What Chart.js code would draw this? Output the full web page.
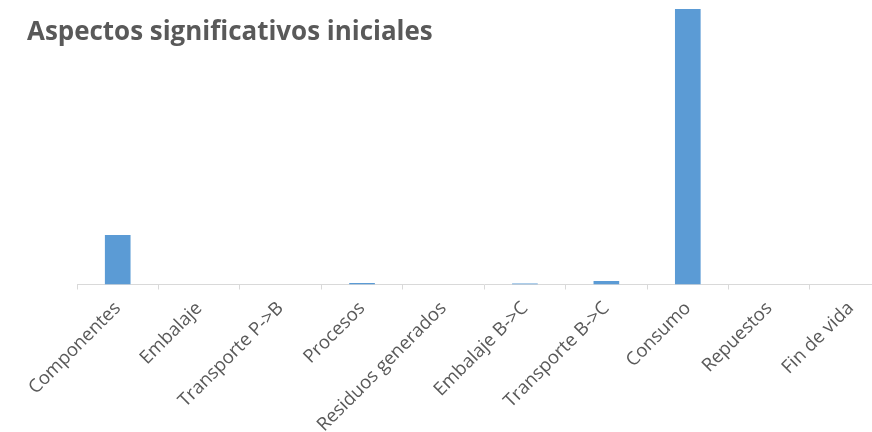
<!DOCTYPE html>
<html>
<head>
<meta charset="utf-8">
<script src="https://cdn.jsdelivr.net/npm/chart.js@4.4.1/dist/chart.umd.min.js"></script>
<style>
  html, body { margin: 0; padding: 0; background: #ffffff; }
  #wrap { width: 872px; height: 432px; overflow: hidden; position: relative; }
  canvas { display: block; }
</style>
</head>
<body>
<div id="wrap"><canvas id="c" width="900" height="432"></canvas></div>
<script>
// Categories along the life cycle
const categories = [
  'Componentes', 'Embalaje', 'Transporte P->B', 'Procesos', 'Residuos generados',
  'Embalaje B->C', 'Transporte B->C', 'Consumo', 'Repuestos', 'Fin de vida'
];
// Share of the initial impact per stage (%)
const shares = [14.93, 0, 0, 0.45, 0, 0.3, 1.06, 83.1, 0, 0];
const chartTitle = 'Aspectos significativos iniciales';

const FONT = "'Open Sans', 'DejaVu Sans', sans-serif";
const GREY_TEXT = '#595959';
const AXIS_GREY = '#d9d9d9';

// Title drawn on the canvas, sized to its box width
const titlePlugin = {
  id: 'canvasTitle',
  afterDraw(chart) {
    const ctx = chart.ctx;
    ctx.save();
    ctx.font = 'bold 100px ' + FONT;
    const w100 = ctx.measureText(chartTitle).width;
    const size = 100 * 406 / w100;
    ctx.font = 'bold ' + size.toFixed(2) + 'px ' + FONT;
    ctx.fillStyle = GREY_TEXT;
    ctx.textBaseline = 'alphabetic';
    ctx.textAlign = 'left';
    ctx.fillText(chartTitle, 27, 40);
    ctx.restore();
  }
};

new Chart(document.getElementById('c'), {
  type: 'bar',
  data: {
    labels: categories,
    datasets: [{
      data: shares,
      backgroundColor: '#5b9bd5',
      borderWidth: 0,
      categoryPercentage: 1,
      barPercentage: 0.315
    }]
  },
  options: {
    responsive: false,
    animation: false,
    devicePixelRatio: 1,
    layout: { padding: { left: 77, right: 8.6, top: 9, bottom: 0 } },
    plugins: {
      legend: { display: false },
      tooltip: { enabled: false },
      title: { display: false }
    },
    scales: {
      x: {
        offset: true,
        border: { display: true, color: AXIS_GREY, width: 1 },
        grid: {
          offset: true,
          drawOnChartArea: false,
          drawTicks: true,
          tickLength: 5,
          color: AXIS_GREY
        },
        ticks: {
          autoSkip: false,
          minRotation: 45,
          maxRotation: 45,
          padding: 8,
          color: GREY_TEXT,
          font: { family: FONT, size: 18.5 }
        },
        afterFit(scale) { scale.height = 147.5; }
      },
      y: {
        display: false,
        min: 0,
        max: Math.max(...shares)
      }
    }
  },
  plugins: [titlePlugin]
});
</script>
</body>
</html>
